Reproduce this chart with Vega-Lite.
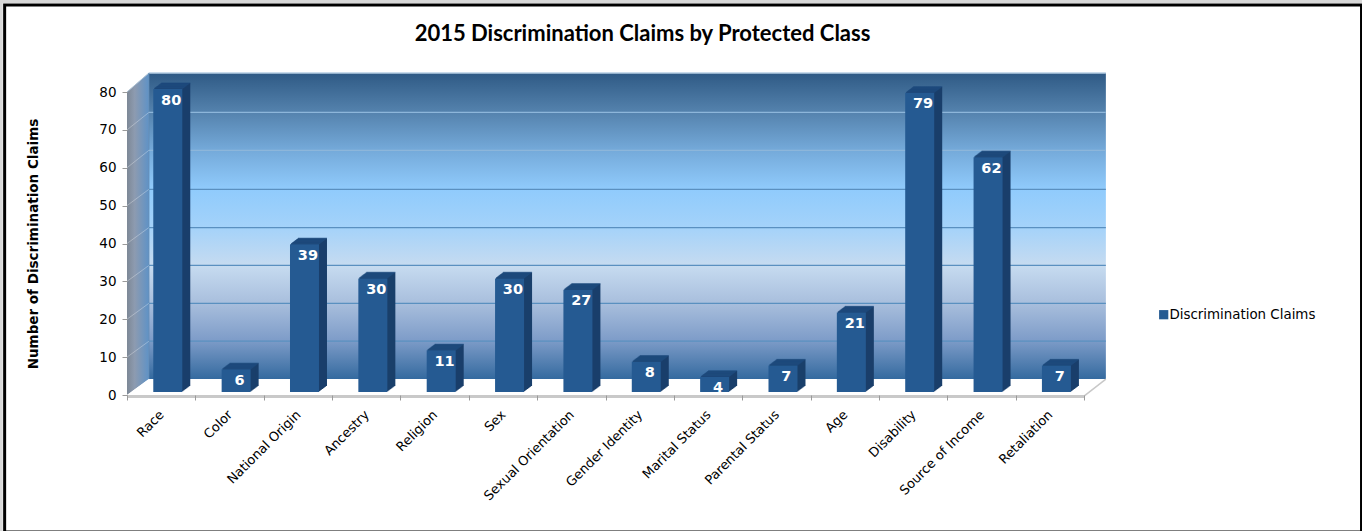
{
"$schema":"https://vega.github.io/schema/vega-lite/v6.json",
"width":957,"height":303,
"autosize":{"type":"none"},
"padding":{"left":127,"top":92,"right":278,"bottom":136},
"background":"#ffffff",
"title":{"text":"2015 Discrimination Claims by Protected Class","font":"Lato","fontSize":22,"fontWeight":"bold","color":"#000000","anchor":"middle","dx":37,"offset":-46},
"config":{"view":{"stroke":null},"axis":{"grid":false}},
"datasets":{
"bars":[
{"cls":"Race","n":80,"series":"Discrimination Claims"},
{"cls":"Color","n":6,"series":"Discrimination Claims"},
{"cls":"National Origin","n":39,"series":"Discrimination Claims"},
{"cls":"Ancestry","n":30,"series":"Discrimination Claims"},
{"cls":"Religion","n":11,"series":"Discrimination Claims"},
{"cls":"Sex","n":30,"series":"Discrimination Claims"},
{"cls":"Sexual Orientation","n":27,"series":"Discrimination Claims"},
{"cls":"Gender Identity","n":8,"series":"Discrimination Claims"},
{"cls":"Marital Status","n":4,"series":"Discrimination Claims"},
{"cls":"Parental Status","n":7,"series":"Discrimination Claims"},
{"cls":"Age","n":21,"series":"Discrimination Claims"},
{"cls":"Disability","n":79,"series":"Discrimination Claims"},
{"cls":"Source of Income","n":62,"series":"Discrimination Claims"},
{"cls":"Retaliation","n":7,"series":"Discrimination Claims"}]
},
"resolve":{"scale":{"x":"independent"}},
"layer":[
{"encoding":{
 "x":{"field":"a","type":"quantitative","scale":{"domain":[0,14],"nice":false,"zero":false},"axis":null},
 "y":{"field":"b","type":"quantitative","scale":{"domain":[0,80],"nice":false,"zero":false},"axis":{"title":"Number of Discrimination Claims","titleFont":"DejaVu Sans","titleFontSize":13.5,"titleFontWeight":"bold","titleColor":"#000000","titlePadding":58,"labelFont":"DejaVu Sans","labelFontSize":13.5,"labelColor":"#000000","labelPadding":6,"labelOverlap":false,"values":[0,10,20,30,40,50,60,70,80],"tickColor":"#9a9a9a","tickSize":5,"domain":false,"zindex":1}}},
 "layer":[
 {"data":{"values":[{"a":-1.84,"a2":18.1,"b":103.9,"b2":-40}]},"mark":{"type":"rect","filled":false,"stroke":"#d8d8d8","strokeWidth":3},"encoding":{"x2":{"field":"a2"},"y2":{"field":"b2"}}},
 {"data":{"values":[{"a":-1.79,"a2":18.06,"b":103,"b2":-36.2}]},"mark":{"type":"rect","filled":false,"stroke":"#000000","strokeWidth":3},"encoding":{"x2":{"field":"a2"},"y2":{"field":"b2"}}},
 {"data":{"values":[{"a":0.32,"a2":14.32,"b":85,"b2":4.2}]},
  "mark":{"type":"rect","color":{"gradient":"linear","x1":0,"y1":0,"x2":0,"y2":1,"stops":[
   {"offset":0,"color":"#2f5a85"},{"offset":0.13,"color":"#5583ae"},{"offset":0.25,"color":"#74a9d9"},{"offset":0.38,"color":"#90cbfc"},{"offset":0.5,"color":"#a3d2fa"},{"offset":0.63,"color":"#c6dbf0"},{"offset":0.75,"color":"#a9bfdd"},{"offset":0.87,"color":"#7f9dc9"},{"offset":1,"color":"#346a9f"}]}},
  "encoding":{"x2":{"field":"a2"},"y2":{"field":"b2"}}},
 {"data":{"values":[{"a":0,"b":0,"b2":80},{"a":0.32,"b":4.2,"b2":85}]},
  "mark":{"type":"area","color":{"gradient":"linear","x1":0,"y1":0,"x2":1,"y2":0,"stops":[{"offset":0,"color":"#7d8896"},{"offset":0.35,"color":"#8d9bb0"},{"offset":1,"color":"#5f92c6"}]}},
  "encoding":{"y2":{"field":"b2"}}},
 {"data":{"values":[{"a":0,"b":0,"b2":0},{"a":0.32,"b":0,"b2":4.2},{"a":14,"b":0,"b2":4.2},{"a":14.32,"b":4.2,"b2":4.2}]},
  "mark":{"type":"area","color":"#ffffff"},"encoding":{"y2":{"field":"b2"}}},
 {"data":{"values":[{"a":0.32,"a2":14.32,"b":85}]},"mark":{"type":"rule","color":"#b7cfe4","strokeWidth":1.5},"encoding":{"x2":{"field":"a2"}}},
 {"data":{"values":[{"a":0,"a2":0.32,"b":80,"b2":85}]},"mark":{"type":"rule","color":"#a9bfd2","strokeWidth":1},"encoding":{"x2":{"field":"a2"},"y2":{"field":"b2"}}},
 {"data":{"values":[{"a":14,"a2":14.32,"b":-0.3,"b2":4.2}]},"mark":{"type":"rule","color":"#c8c8c8","strokeWidth":1.5},"encoding":{"x2":{"field":"a2"},"y2":{"field":"b2"}}},
 {"data":{"values":[{"a":0,"a2":14,"b":0}]},"mark":{"type":"rule","color":"#c9c9c9","strokeWidth":3,"yOffset":1.5},"encoding":{"x2":{"field":"a2"}}},
 {"data":{"values":[{"a":0.32,"a2":0.32,"b":4.2,"b2":85}]},"mark":{"type":"rule","color":"#5d88b5","strokeWidth":1},"encoding":{"x2":{"field":"a2"},"y2":{"field":"b2"}}},
 {"data":{"values":[{"a":0.32,"a2":14.32,"b":14.2},{"a":0.32,"a2":14.32,"b":24.2},{"a":0.32,"a2":14.32,"b":34.2},{"a":0.32,"a2":14.32,"b":44.2},{"a":0.32,"a2":14.32,"b":54.3}]},"mark":{"type":"rule","color":"#5a90c0","strokeWidth":1.2},"encoding":{"x2":{"field":"a2"}}},
 {"data":{"values":[{"a":0.32,"a2":14.32,"b":64.6},{"a":0.32,"a2":14.32,"b":74.6}]},"mark":{"type":"rule","color":"#8db6da","strokeWidth":1.2},"encoding":{"x2":{"field":"a2"}}},
 {"data":{"values":[{"a":0,"a2":0.32,"b":10,"b2":14.2},{"a":0,"a2":0.32,"b":20,"b2":24.2},{"a":0,"a2":0.32,"b":30,"b2":34.2},{"a":0,"a2":0.32,"b":40,"b2":44.2},{"a":0,"a2":0.32,"b":50,"b2":54.3},{"a":0,"a2":0.32,"b":60,"b2":64.6},{"a":0,"a2":0.32,"b":70,"b2":74.6}]},"mark":{"type":"rule","color":"#ffffff","opacity":0.3,"strokeWidth":1},"encoding":{"x2":{"field":"a2"},"y2":{"field":"b2"}}}
 ]},
{"data":{"name":"bars"},
 "encoding":{
 "x":{"field":"cls","type":"nominal","sort":null,"scale":{"paddingInner":0,"paddingOuter":0},"axis":{"title":null,"labelAngle":-45,"labelAlign":"right","labelBaseline":"top","labelFont":"DejaVu Sans","labelFontSize":13,"labelColor":"#000000","labelPadding":8,"labelOffset":-4,"labelOverlap":false,"tickBand":"extent","tickColor":"#9a9a9a","tickSize":5,"domain":false,"zindex":1}},
 "y":{"field":"n","type":"quantitative","axis":{"title":"Number of Discrimination Claims","titleFont":"DejaVu Sans","titleFontSize":13.5,"titleFontWeight":"bold","titleColor":"#000000","titlePadding":58,"labelFont":"DejaVu Sans","labelFontSize":13.5,"labelColor":"#000000","labelPadding":6,"labelOverlap":false,"values":[0,10,20,30,40,50,60,70,80],"tickColor":"#9a9a9a","tickSize":5,"domain":false,"zindex":1}}},
 "layer":[
 {"mark":{"type":"bar","size":29,"color":"#1a3f6b","xOffset":14.6,"yOffset":-9,"y2Offset":-9},"encoding":{"y2":{"datum":0}}},
 {"mark":{"type":"bar","size":29,"color":"#1a3f6b","xOffset":13.6,"yOffset":-8.25,"y2Offset":-8.25},"encoding":{"y2":{"datum":0}}},
 {"mark":{"type":"bar","size":29,"color":"#1a3f6b","xOffset":12.6,"yOffset":-7.5,"y2Offset":-7.5},"encoding":{"y2":{"datum":0}}},
 {"mark":{"type":"bar","size":29,"color":"#1a3f6b","xOffset":11.6,"yOffset":-6.75,"y2Offset":-6.75},"encoding":{"y2":{"datum":0}}},
 {"mark":{"type":"bar","size":29,"color":"#1a3f6b","xOffset":10.6,"yOffset":-6,"y2Offset":-6},"encoding":{"y2":{"datum":0}}},
 {"mark":{"type":"bar","size":29,"color":"#1a3f6b","xOffset":9.6,"yOffset":-5.25,"y2Offset":-5.25},"encoding":{"y2":{"datum":0}}},
 {"mark":{"type":"bar","size":29,"color":"#1a3f6b","xOffset":8.6,"yOffset":-4.5,"y2Offset":-4.5},"encoding":{"y2":{"datum":0}}},
 {"mark":{"type":"bar","size":29,"color":"#1a3f6b","xOffset":7.6,"yOffset":-3.75,"y2Offset":-3.75},"encoding":{"y2":{"datum":0}}},
 {"mark":{"type":"tick","size":29,"thickness":1.2,"color":"#1f4d80","xOffset":14.6,"yOffset":-9}},
 {"mark":{"type":"tick","size":29,"thickness":1.2,"color":"#1f4d80","xOffset":13.6,"yOffset":-8.25}},
 {"mark":{"type":"tick","size":29,"thickness":1.2,"color":"#1f4d80","xOffset":12.6,"yOffset":-7.5}},
 {"mark":{"type":"tick","size":29,"thickness":1.2,"color":"#1f4d80","xOffset":11.6,"yOffset":-6.75}},
 {"mark":{"type":"tick","size":29,"thickness":1.2,"color":"#1f4d80","xOffset":10.6,"yOffset":-6}},
 {"mark":{"type":"tick","size":29,"thickness":1.2,"color":"#1f4d80","xOffset":9.6,"yOffset":-5.25}},
 {"mark":{"type":"tick","size":29,"thickness":1.2,"color":"#1f4d80","xOffset":8.6,"yOffset":-4.5}},
 {"mark":{"type":"tick","size":29,"thickness":1.2,"color":"#1f4d80","xOffset":7.6,"yOffset":-3.75}},
 {"mark":{"type":"bar","size":29,"xOffset":6.6,"yOffset":-3,"y2Offset":-3},
  "encoding":{"y2":{"datum":0},"color":{"field":"series","type":"nominal","scale":{"range":["#255a92"]},"legend":{"title":null,"orient":"none","legendX":1030,"legendY":216,"symbolType":"square","symbolSize":85,"labelFont":"DejaVu Sans","labelFontSize":13.4,"labelColor":"#000000","labelOffset":-1}}}},
 {"mark":{"type":"text","color":"#ffffff","font":"DejaVu Sans","fontWeight":"bold","fontSize":14.5,"xOffset":10,"yOffset":8.5,"align":"center","baseline":"middle"},"encoding":{"text":{"field":"n","type":"quantitative"}}}
 ]}
]
}
